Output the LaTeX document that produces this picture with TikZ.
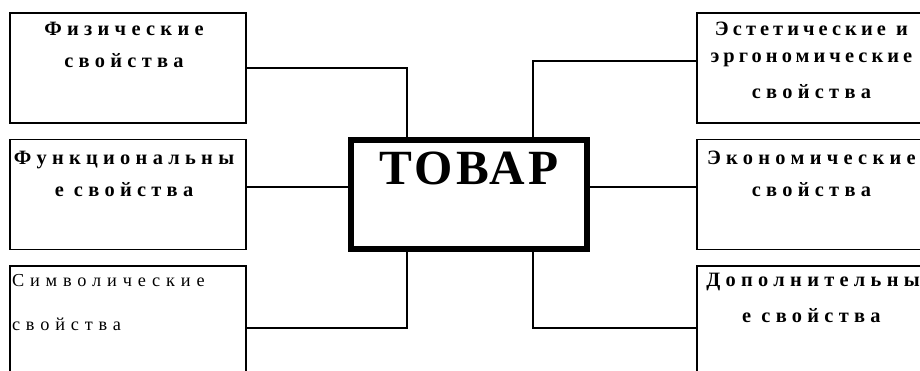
\documentclass[tikz,border=0pt]{standalone}
\usepackage{fontspec}
\setmainfont{Liberation Serif}
\newfontfamily\propfont[LetterSpace=26]{Liberation Serif}
\newfontfamily\estetfont[LetterSpace=20]{Liberation Serif}
\newfontfamily\simvfont[LetterSpace=32]{Liberation Serif}
\newfontfamily\tovarfont[LetterSpace=7]{Liberation Serif}
\newcommand{\wgap}{\hspace{0.5em}}
\usetikzlibrary{calc}

\begin{document}
\begin{tikzpicture}[line width=1.1pt,
    propbox/.style={draw,rectangle,minimum width=5.9cm,minimum height=2.75cm,inner sep=0pt},
    proptext/.style={anchor=north,inner sep=0pt,align=center,
      font=\propfont\bfseries\fontsize{14.5}{22.8}\selectfont},
    tovarbox/.style={draw,rectangle,line width=0.15cm,minimum width=5.89cm,
      minimum height=2.74cm,inner sep=0pt}]
    \clip (0,0) rectangle (23,-9.275);
    \fill[white] (0,0) rectangle (23,-9.275);
    % --- the product in the middle
    \node[tovarbox] (tovar) at (11.725,-4.8625) {};
    \node[anchor=base,inner sep=0pt,font=\tovarfont\bfseries\fontsize{35}{40}\selectfont]
      (tovartxt) at ($(tovar.center)+(0,0.24)$) {ТОВАР};
    % --- left column
    \node[propbox] (fiz) at (3.2,-1.7) {};
    \node[propbox] (funk) at (3.2,-4.8625) {};
    \node[propbox] (simv) at (3.2,-8.025) {};
    \node[proptext,text width=5.6cm] (fiztxt) at ([xshift=-0.1cm,yshift=-0.23cm]fiz.north)
      {Физические\\свойства};
    \node[proptext,text width=5.6cm] (funktxt) at ([xshift=-0.1cm,yshift=-0.28cm]funk.north)
      {Функциональны\\е\wgap свойства};
    \node[anchor=north west,inner sep=0pt,align=left,
      font=\simvfont\fontsize{13}{31.3}\selectfont]
      (simvtxt) at ([xshift=0.05cm,yshift=-0.22cm]simv.north west)
      {Символические\\свойства};
    % --- right column
    \node[propbox] (estet) at (20.375,-1.7) {};
    \node[propbox] (ekon) at (20.375,-4.8625) {};
    \node[propbox] (dop) at (20.375,-8.025) {};
    \node[proptext,text width=5.25cm,font=\estetfont\bfseries\fontsize{14.5}{19.2}\selectfont]
      (estettxt) at ([xshift=-0.09cm,yshift=-0.23cm]estet.north)
      {Эстетические\wgap и\\эргономические\\[6.4pt]{\propfont свойства}};
    \node[proptext,text width=5.25cm] (ekontxt) at ([xshift=-0.09cm,yshift=-0.28cm]ekon.north)
      {Экономические\\свойства};
    \node[proptext,text width=5.25cm,font=\propfont\bfseries\fontsize{14.5}{25.6}\selectfont]
      (doptxt) at ([xshift=-0.09cm,yshift=-0.18cm]dop.north)
      {Дополнительны\\е\wgap свойства};
    % --- connectors
    \draw (fiz.east) -| ([xshift=-1.55cm]tovar.north);
    \draw ([yshift=0.19cm]funk.east) -- ([yshift=0.19cm]tovar.west);
    \draw ([yshift=-0.175cm]simv.east) -| ([xshift=-1.55cm]tovar.south);
    \draw ([yshift=0.175cm]estet.west) -| ([xshift=1.6cm]tovar.north);
    \draw ([yshift=0.19cm]ekon.west) -- ([yshift=0.19cm]tovar.east);
    \draw ([yshift=-0.175cm]dop.west) -| ([xshift=1.6cm]tovar.south);
  \end{tikzpicture}
\end{document}
